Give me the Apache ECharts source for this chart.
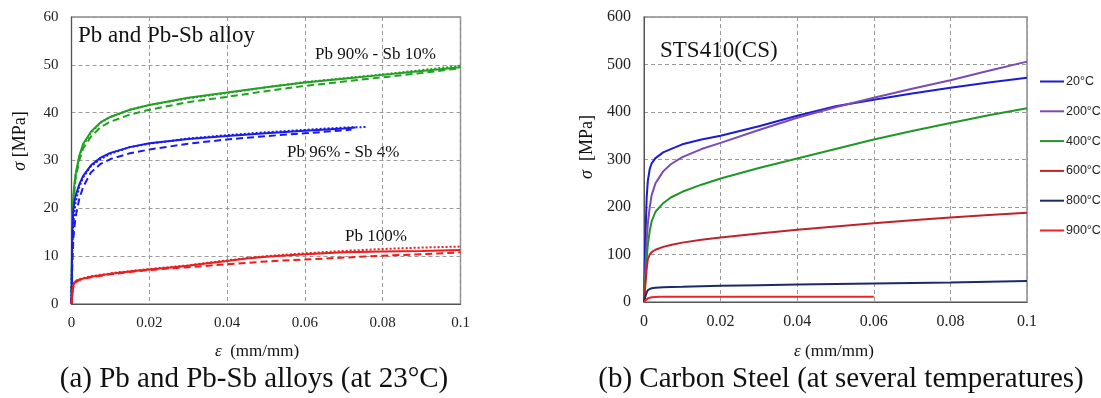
<!DOCTYPE html>
<html>
<head>
<meta charset="utf-8">
<script src="https://cdn.jsdelivr.net/npm/echarts@6/dist/echarts.min.js"></script>
<style>
html,body{margin:0;padding:0;background:#fff;}
#c{width:1101px;height:398px;}
</style>
</head>
<body>
<div id="c"></div>
<script>
// ---------- (a) Pb and Pb-Sb alloys ----------
const xTicksA = ['0', '0.02', '0.04', '0.06', '0.08', '0.1'];
const epsSb10 = [0, 0.0002, 0.0005, 0.001, 0.002, 0.003, 0.005, 0.0075, 0.01, 0.015, 0.02, 0.03, 0.04, 0.05, 0.06, 0.07, 0.08, 0.09, 0.1];
const sb10Solid  = [0, 18, 23, 27, 31, 33.5, 36, 38, 39.1, 40.6, 41.6, 43.1, 44.2, 45.3, 46.3, 47.1, 47.9, 48.7, 49.5];
const sb10Dashed = [0, 15, 21, 26, 30, 32.5, 35, 37, 38.1, 39.6, 40.6, 42.2, 43.3, 44.5, 45.6, 46.5, 47.4, 48.3, 49.3];
const sb10Dotted = [0, 17, 22.5, 26.5, 30.8, 33.2, 35.8, 37.9, 39.1, 40.6, 41.6, 43.0, 44.1, 45.3, 46.4, 47.2, 48.0, 48.9, 49.8];

const epsSb4 = [0, 0.0002, 0.0005, 0.001, 0.002, 0.003, 0.005, 0.0075, 0.01, 0.015, 0.02, 0.03, 0.04, 0.05, 0.06, 0.07, 0.073];
const sb4Solid  = [0, 15, 20, 22.5, 25, 26.8, 29, 30.6, 31.6, 32.8, 33.6, 34.5, 35.1, 35.7, 36.2, 36.7, 36.9];
const epsSb4Dashed = [0, 0.0002, 0.0005, 0.001, 0.002, 0.003, 0.005, 0.0075, 0.01, 0.015, 0.02, 0.03, 0.04, 0.05, 0.06, 0.07, 0.072];
const sb4Dashed = [0, 8, 14, 18, 22, 24.5, 27.5, 29.3, 30.3, 31.5, 32.3, 33.5, 34.4, 35.1, 35.7, 36.3, 36.5];
const epsSb4Dotted = [0, 0.0002, 0.0005, 0.001, 0.002, 0.003, 0.005, 0.0075, 0.01, 0.015, 0.02, 0.03, 0.04, 0.05, 0.06, 0.07, 0.076];
const sb4Dotted = [0, 12, 17, 21, 24.5, 26.5, 28.8, 30.3, 31.4, 32.8, 33.5, 34.6, 35.3, 35.9, 36.4, 36.9, 37.0];

const epsPb = [0, 0.0003, 0.0006, 0.001, 0.002, 0.005, 0.01, 0.015, 0.02, 0.025, 0.03, 0.035, 0.04, 0.045, 0.05, 0.06, 0.07, 0.08, 0.09, 0.1];
const pbSolid  = [0, 3, 4.2, 4.7, 5.1, 5.7, 6.3, 6.8, 7.2, 7.6, 8.0, 8.5, 9.0, 9.5, 9.9, 10.4, 10.8, 11.0, 11.1, 11.3];
const pbDashed = [0, 2.8, 4, 4.5, 5, 5.6, 6.2, 6.7, 7.1, 7.4, 7.7, 8.0, 8.3, 8.6, 8.9, 9.3, 9.7, 10.1, 10.4, 10.8];
const pbDotted = [0, 3, 4.3, 4.8, 5.2, 5.8, 6.4, 6.9, 7.3, 7.7, 8.1, 8.6, 9.1, 9.6, 10.0, 10.6, 11.1, 11.5, 11.8, 12.0];

// ---------- (b) Carbon steel ----------
const tempNames = ['20°C', '200°C', '400°C', '600°C', '800°C', '900°C'];
const epsCS = [0, 0.0003, 0.0007, 0.001, 0.0015, 0.002, 0.003, 0.005, 0.007, 0.01, 0.015, 0.02, 0.03, 0.04, 0.05, 0.06, 0.07, 0.08, 0.09, 0.1];
const cs20  = [0, 120, 220, 255, 280, 292, 303, 315, 322, 332, 342, 350, 370, 392, 412, 426, 439, 451, 462, 472];
const cs200 = [0, 60, 130, 165, 200, 225, 250, 275, 290, 305, 322, 335, 362, 388, 410, 430, 449, 467, 487, 506];
const cs400 = [0, 40, 90, 120, 150, 170, 190, 208, 220, 232, 247, 260, 282, 302, 322, 342, 360, 377, 393, 408];
const cs600 = [0, 30, 70, 90, 100, 105, 110, 116, 120, 125, 131, 136, 144, 152, 159, 166, 172, 178, 183, 188];
const cs800 = [0, 10, 20, 25, 27, 29, 30, 31, 31.5, 32, 33, 34, 35.5, 37, 38, 39, 40, 41, 42.5, 44];
const eps900 = [0, 0.0003, 0.001, 0.002, 0.004, 0.01, 0.03, 0.06];
const cs900 = [0, 4, 8, 10, 11, 11, 11, 11];

const zip = (xs, ys) => xs.map((x, i) => [x, ys[i]]);

const SERIF = '"Liberation Serif", "Times New Roman", serif';
const SANS = '"Liberation Sans", Arial, sans-serif';
const GREEN = '#22a022', BLUE = '#1a1aee', RED = '#ee1c1c';

function line(name, data, color, type, gi, width) {
  return {
    name: name, type: 'line', data: data, xAxisIndex: gi, yAxisIndex: gi,
    symbol: 'none', smooth: false, animation: false,
    lineStyle: {color: color, width: width || 2, type: type},
    itemStyle: {color: color}
  };
}

const gridLine = {show: true, lineStyle: {color: '#9a9a9a', type: [4, 3], width: 1}};

function xAx(gi) {
  return {
    gridIndex: gi, type: 'value', min: 0, max: 0.1, interval: 0.02,
    axisLine: {show: true, onZero: false, lineStyle: {color: '#555', width: 1}},
    axisTick: {show: false},
    axisLabel: {color: '#222', fontFamily: SERIF, fontSize: gi === 0 ? 15 : 16, margin: 12,
      formatter: v => xTicksA[Math.round(v / 0.02)]},
    splitLine: gridLine
  };
}
function yAx(gi, max, interval) {
  return {
    gridIndex: gi, type: 'value', min: 0, max: max, interval: interval,
    axisLine: {show: true, lineStyle: {color: '#555', width: 1}},
    axisTick: {show: false},
    axisLabel: {color: '#222', fontFamily: SERIF, fontSize: gi === 0 ? 15 : 16, margin: 13},
    splitLine: gridLine
  };
}

function txt(x, y, text, size, extra) {
  return Object.assign({
    type: 'text', x: x, y: y,
    style: Object.assign({text: text, fill: '#111', font: size + 'px ' + SERIF,
      textAlign: 'left', textVerticalAlign: 'middle'}, extra || {})
  });
}

const chart = echarts.init(document.getElementById('c'), null, {renderer: 'canvas'});
chart.setOption({
  animation: false,
  backgroundColor: '#fff',
  grid: [
    {left: 71.5, top: 17, width: 389, height: 287, show: true, borderColor: '#8a8a8a', borderWidth: 1.5},
    {left: 644, top: 17, width: 383, height: 285, show: true, borderColor: '#8a8a8a', borderWidth: 1.5}
  ],
  xAxis: [xAx(0), xAx(1)],
  yAxis: [yAx(0, 60, 10), yAx(1, 600, 100)],
  legend: {
    data: tempNames, orient: 'vertical', left: 1035, top: 70, itemGap: 16.8,
    itemWidth: 24, itemHeight: 2, icon: 'rect',
    textStyle: {color: '#222', fontFamily: SANS, fontSize: 12.5, padding: [0, 0, 0, -3]}
  },
  series: [
    line('g-dash', zip(epsSb10, sb10Dashed), GREEN, [7, 4], 0),
    line('g-dot', zip(epsSb10, sb10Dotted), GREEN, [2, 2], 0),
    line('g-solid', zip(epsSb10, sb10Solid), GREEN, 'solid', 0),
    line('b-dash', zip(epsSb4Dashed, sb4Dashed), BLUE, [7, 4], 0),
    line('b-dot', zip(epsSb4Dotted, sb4Dotted), BLUE, [2, 2], 0),
    line('b-solid', zip(epsSb4, sb4Solid), BLUE, 'solid', 0),
    line('r-dash', zip(epsPb, pbDashed), RED, [7, 4], 0),
    line('r-dot', zip(epsPb, pbDotted), RED, [2, 2], 0),
    line('r-solid', zip(epsPb, pbSolid), RED, 'solid', 0),
    line(tempNames[0], zip(epsCS, cs20), '#1c1cd2', 'solid', 1),
    line(tempNames[1], zip(epsCS, cs200), '#7b4bb4', 'solid', 1),
    line(tempNames[2], zip(epsCS, cs400), '#22952a', 'solid', 1),
    line(tempNames[3], zip(epsCS, cs600), '#c0222a', 'solid', 1),
    line(tempNames[4], zip(epsCS, cs800), '#1c2a6a', 'solid', 1),
    line(tempNames[5], zip(eps900, cs900), '#ee2228', 'solid', 1)
  ],
  graphic: [
    txt(78, 36, 'Pb and Pb-Sb alloy', 23),
    txt(315, 55, 'Pb 90% - Sb 10%', 17),
    txt(287, 153, 'Pb 96% - Sb 4%', 17),
    txt(345, 237, 'Pb 100%', 17),
    txt(660, 51, 'STS410(CS)', 23),
    txt(257, 352, '{i|ε}  (mm/mm)', 17, {textAlign: 'center', rich: {i: {fontStyle: 'italic', fontSize: 17, fontFamily: SERIF}}}),
    txt(834, 352, '{i|ε} (mm/mm)', 17, {textAlign: 'center', rich: {i: {fontStyle: 'italic', fontSize: 17, fontFamily: SERIF}}}),
    {type: 'text', x: 20, y: 141, rotation: Math.PI / 2,
      style: {text: '{i|σ} [MPa]', fill: '#111', font: '18px ' + SERIF, textAlign: 'center', textVerticalAlign: 'middle',
        rich: {i: {fontStyle: 'italic', fontSize: 18, fontFamily: SERIF}}}},
    {type: 'text', x: 587, y: 147, rotation: Math.PI / 2,
      style: {text: '{i|σ}  [MPa]', fill: '#111', font: '18px ' + SERIF, textAlign: 'center', textVerticalAlign: 'middle',
        rich: {i: {fontStyle: 'italic', fontSize: 18, fontFamily: SERIF}}}},
    txt(254, 379, '(a) Pb and Pb-Sb alloys (at 23°C)', 29, {textAlign: 'center'}),
    txt(841, 379, '(b) Carbon Steel (at several temperatures)', 29, {textAlign: 'center'})
  ]
});
</script>
</body>
</html>
